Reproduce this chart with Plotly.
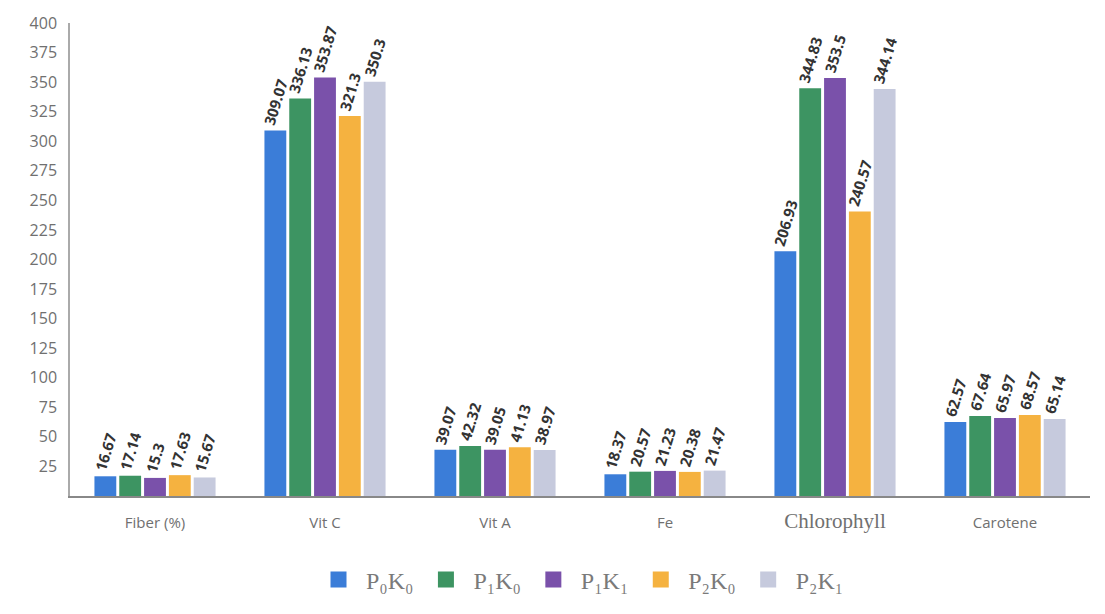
import plotly.graph_objects as go

categories = ["Fiber (%)", "Vit C", "Vit A", "Fe", "Chlorophyll", "Carotene"]
tick_text = ["Fiber (%)", "Vit C", "Vit A", "Fe",
             '<span style="font-family:Liberation Serif;font-size:21px">Chlorophyll</span>', "Carotene"]
series_names = ["P₀K₀", "P₁K₀", "P₁K₁", "P₂K₀", "P₂K₁"]
p0k0 = [16.67, 309.07, 39.07, 18.37, 206.93, 62.57]
p1k0 = [17.14, 336.13, 42.32, 20.57, 344.83, 67.64]
p1k1 = [15.3, 353.87, 39.05, 21.23, 353.5, 65.97]
p2k0 = [17.63, 321.3, 41.13, 20.38, 240.57, 68.57]
p2k1 = [15.67, 350.3, 38.97, 21.47, 344.14, 65.14]
y_ticks = list(range(25, 401, 25))

series = [p0k0, p1k0, p1k1, p2k0, p2k1]
colors = ["#3b7dd8", "#3d9462", "#7a51aa", "#f5b240", "#c6cadd"]

fig = go.Figure()
for name, vals, col in zip(series_names, series, colors):
    fig.add_trace(go.Bar(
        x=categories, y=vals, name=name, marker_color=col, marker_line_width=0,
        text=[f"{v:g}" for v in vals], textposition="outside", textangle=-73,
        constraintext="none", cliponaxis=False,
        textfont=dict(family="Open Sans", size=15, color="#333333", weight="bold"),
        showlegend=False,
    ))
for name, col in zip(series_names, colors):
    fig.add_trace(go.Scatter(
        x=[None], y=[None], mode="markers", name=name,
        marker=dict(symbol="square", size=22, color=col),
        showlegend=True,
    ))

fig.update_layout(
    width=1105, height=614,
    margin=dict(l=70, r=15, t=20, b=115),
    paper_bgcolor="white", plot_bgcolor="white",
    barmode="group", bargap=0.27, bargroupgap=0.12,
    legend=dict(orientation="h", x=0.5, xanchor="center", y=-0.13, yanchor="top",
                font=dict(family="Liberation Serif", size=24, color="#7a7a7a"),
                itemsizing="trace", tracegroupgap=0, itemwidth=45),
    font=dict(family="Open Sans", color="#666666"),
)
fig.update_xaxes(
    tickvals=categories, ticktext=tick_text,
    showline=True, linecolor="#888888", linewidth=1.5,
    ticks="", showgrid=False, ticklabelstandoff=12,
    tickfont=dict(family="Open Sans", size=15, color="#707070"),
)
fig.update_yaxes(
    range=[0, 400], tickvals=y_ticks,
    showline=True, linecolor="#aaaaaa", linewidth=1.5,
    showgrid=False, zeroline=False, ticks="", ticklabelstandoff=8,
    tickfont=dict(family="Open Sans", size=16, color="#707070"),
)

fig.write_html("out.html")
